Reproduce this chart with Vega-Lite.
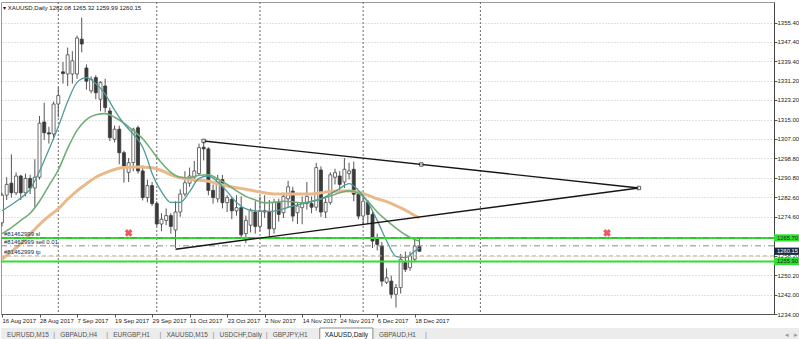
{
  "$schema": "https://vega.github.io/schema/vega-lite/v6.json",
  "background": "white",
  "padding": {"left": 0, "top": 1, "right": 0, "bottom": 0},
  "spacing": 3,
  "config": {"font": "Liberation Sans", "view": {"stroke": "#9a9a9a"}, "axis": {"labelOverlap": false, "labelSeparation": 0}, "scale": {"continuousPadding": 0}},
  "datasets": {
    "candles": [
      {"d":"2017-08-16","i":0,"o":1272,"h":1284.5,"l":1270.5,"c":1283.5},
      {"d":"2017-08-17","i":1,"o":1283.5,"h":1291,"l":1281.5,"c":1288},
      {"d":"2017-08-18","i":2,"o":1288.5,"h":1300.5,"l":1282.5,"c":1284.5},
      {"d":"2017-08-21","i":3,"o":1284.5,"h":1293,"l":1283.5,"c":1291.5},
      {"d":"2017-08-22","i":4,"o":1291.5,"h":1292,"l":1281.5,"c":1284.5},
      {"d":"2017-08-23","i":5,"o":1284.5,"h":1292.5,"l":1283,"c":1290.5},
      {"d":"2017-08-24","i":6,"o":1290.5,"h":1292,"l":1284,"c":1286.5},
      {"d":"2017-08-25","i":7,"o":1286.5,"h":1298.5,"l":1278,"c":1291},
      {"d":"2017-08-28","i":8,"o":1291,"h":1316.5,"l":1290,"c":1313.5},
      {"d":"2017-08-29","i":9,"o":1314,"h":1322,"l":1306.5,"c":1309.5},
      {"d":"2017-08-30","i":10,"o":1309.5,"h":1312,"l":1305,"c":1309},
      {"d":"2017-08-31","i":11,"o":1309,"h":1322.5,"l":1306.5,"c":1321.5},
      {"d":"2017-09-01","i":12,"o":1321.5,"h":1328.5,"l":1316,"c":1325},
      {"d":"2017-09-04","i":13,"o":1334.9,"h":1339,"l":1330,"c":1334.2},
      {"d":"2017-09-05","i":14,"o":1334,"h":1345,"l":1329,"c":1342},
      {"d":"2017-09-06","i":15,"o":1334,"h":1343.5,"l":1330,"c":1339.5},
      {"d":"2017-09-07","i":16,"o":1334,"h":1350,"l":1332,"c":1349},
      {"d":"2017-09-08","i":17,"o":1348.5,"h":1357.5,"l":1343,"c":1346.5},
      {"d":"2017-09-11","i":18,"o":1336.5,"h":1338,"l":1327.5,"c":1331},
      {"d":"2017-09-12","i":19,"o":1327,"h":1333,"l":1326,"c":1331.8},
      {"d":"2017-09-13","i":20,"o":1332.5,"h":1333.5,"l":1323.5,"c":1326.2},
      {"d":"2017-09-14","i":21,"o":1323.5,"h":1331,"l":1318.5,"c":1330.4},
      {"d":"2017-09-15","i":22,"o":1329,"h":1332,"l":1318,"c":1320},
      {"d":"2017-09-18","i":23,"o":1318.6,"h":1320,"l":1306,"c":1307.5},
      {"d":"2017-09-19","i":24,"o":1306.8,"h":1312.5,"l":1305.5,"c":1311},
      {"d":"2017-09-20","i":25,"o":1311,"h":1312.5,"l":1296.4,"c":1301.2},
      {"d":"2017-09-21","i":26,"o":1301.2,"h":1302,"l":1288.7,"c":1295},
      {"d":"2017-09-22","i":27,"o":1293,"h":1299,"l":1289,"c":1297},
      {"d":"2017-09-25","i":28,"o":1297.1,"h":1311.6,"l":1293.5,"c":1311},
      {"d":"2017-09-26","i":29,"o":1311.6,"h":1312.5,"l":1292.5,"c":1293.6},
      {"d":"2017-09-27","i":30,"o":1293.6,"h":1296,"l":1281.3,"c":1282.5},
      {"d":"2017-09-28","i":31,"o":1282.5,"h":1290,"l":1280.5,"c":1287.5},
      {"d":"2017-09-29","i":32,"o":1287.5,"h":1289,"l":1279,"c":1280},
      {"d":"2017-10-02","i":33,"o":1280,"h":1281,"l":1270.5,"c":1271.5},
      {"d":"2017-10-03","i":34,"o":1271.5,"h":1276,"l":1268.5,"c":1273.5},
      {"d":"2017-10-04","i":35,"o":1273,"h":1278,"l":1271,"c":1275},
      {"d":"2017-10-05","i":36,"o":1275,"h":1276,"l":1267.5,"c":1270.5},
      {"d":"2017-10-06","i":37,"o":1269,"h":1281,"l":1261.5,"c":1276.5},
      {"d":"2017-10-09","i":38,"o":1276.5,"h":1286,"l":1274.5,"c":1284},
      {"d":"2017-10-10","i":39,"o":1284,"h":1293.5,"l":1283,"c":1288.7},
      {"d":"2017-10-11","i":40,"o":1288.5,"h":1295,"l":1287,"c":1291.5},
      {"d":"2017-10-12","i":41,"o":1291,"h":1297.8,"l":1289,"c":1293.6},
      {"d":"2017-10-13","i":42,"o":1292.5,"h":1305,"l":1292,"c":1303.3},
      {"d":"2017-10-16","i":43,"o":1303.5,"h":1306.1,"l":1298,"c":1302.8},
      {"d":"2017-10-17","i":44,"o":1302.8,"h":1303.5,"l":1283.5,"c":1285.5},
      {"d":"2017-10-18","i":45,"o":1285.5,"h":1288,"l":1280,"c":1282.5},
      {"d":"2017-10-19","i":46,"o":1282,"h":1292,"l":1280.5,"c":1290},
      {"d":"2017-10-20","i":47,"o":1290,"h":1292,"l":1278,"c":1280.4},
      {"d":"2017-10-23","i":48,"o":1280.4,"h":1283.5,"l":1276.5,"c":1282.5},
      {"d":"2017-10-24","i":49,"o":1281.8,"h":1282.5,"l":1273.5,"c":1277},
      {"d":"2017-10-25","i":50,"o":1277,"h":1283.5,"l":1275,"c":1278.3},
      {"d":"2017-10-26","i":51,"o":1278.3,"h":1283,"l":1266,"c":1267},
      {"d":"2017-10-27","i":52,"o":1267.5,"h":1275,"l":1263.5,"c":1273},
      {"d":"2017-10-30","i":53,"o":1271,"h":1278,"l":1268,"c":1277},
      {"d":"2017-10-31","i":54,"o":1276.5,"h":1281,"l":1267.5,"c":1270.5},
      {"d":"2017-11-01","i":55,"o":1270.5,"h":1283,"l":1268.5,"c":1277},
      {"d":"2017-11-02","i":56,"o":1277,"h":1283.5,"l":1274,"c":1276.5},
      {"d":"2017-11-03","i":57,"o":1276.7,"h":1281.5,"l":1266.3,"c":1269.5},
      {"d":"2017-11-06","i":58,"o":1269.5,"h":1282,"l":1267.5,"c":1280.5},
      {"d":"2017-11-07","i":59,"o":1280.5,"h":1282,"l":1272.5,"c":1275.5},
      {"d":"2017-11-08","i":60,"o":1276.2,"h":1284.5,"l":1274,"c":1283},
      {"d":"2017-11-09","i":61,"o":1282,"h":1289.5,"l":1278.5,"c":1287},
      {"d":"2017-11-10","i":62,"o":1285.2,"h":1287,"l":1272.5,"c":1274.8},
      {"d":"2017-11-13","i":63,"o":1276.2,"h":1280.5,"l":1271.5,"c":1279},
      {"d":"2017-11-14","i":64,"o":1278.3,"h":1283,"l":1271.4,"c":1280.3},
      {"d":"2017-11-15","i":65,"o":1280,"h":1289,"l":1277.5,"c":1283},
      {"d":"2017-11-16","i":66,"o":1280,"h":1283,"l":1276,"c":1278.5},
      {"d":"2017-11-17","i":67,"o":1278.5,"h":1297,"l":1277,"c":1295},
      {"d":"2017-11-20","i":68,"o":1294,"h":1295.5,"l":1274.5,"c":1276.5},
      {"d":"2017-11-21","i":69,"o":1276.5,"h":1282.5,"l":1274,"c":1280.5},
      {"d":"2017-11-22","i":70,"o":1280.5,"h":1293,"l":1279.5,"c":1292},
      {"d":"2017-11-23","i":71,"o":1291,"h":1294.5,"l":1288,"c":1292.9},
      {"d":"2017-11-24","i":72,"o":1291.5,"h":1293.5,"l":1285.5,"c":1288},
      {"d":"2017-11-27","i":73,"o":1289,"h":1299,"l":1286.5,"c":1294.3},
      {"d":"2017-11-28","i":74,"o":1292.5,"h":1297,"l":1290,"c":1293.6},
      {"d":"2017-11-29","i":75,"o":1294.3,"h":1297.5,"l":1281,"c":1283.9},
      {"d":"2017-11-30","i":76,"o":1283.9,"h":1285.5,"l":1273.5,"c":1274.8},
      {"d":"2017-12-01","i":77,"o":1274.8,"h":1282.5,"l":1271,"c":1281},
      {"d":"2017-12-04","i":78,"o":1280.5,"h":1281.5,"l":1271.5,"c":1275.5},
      {"d":"2017-12-05","i":79,"o":1275.5,"h":1277,"l":1261.5,"c":1264.4},
      {"d":"2017-12-06","i":80,"o":1265.8,"h":1267.5,"l":1260.5,"c":1263},
      {"d":"2017-12-07","i":81,"o":1262.3,"h":1264,"l":1245.5,"c":1247.7},
      {"d":"2017-12-08","i":82,"o":1247.2,"h":1253,"l":1246.5,"c":1249.1},
      {"d":"2017-12-11","i":83,"o":1247.7,"h":1250,"l":1240.5,"c":1242.2},
      {"d":"2017-12-12","i":84,"o":1242.2,"h":1246.5,"l":1236.7,"c":1245},
      {"d":"2017-12-13","i":85,"o":1245,"h":1259,"l":1242.5,"c":1256.8},
      {"d":"2017-12-14","i":86,"o":1255.4,"h":1260,"l":1251.5,"c":1252.6},
      {"d":"2017-12-15","i":87,"o":1253.3,"h":1260,"l":1252,"c":1258.2},
      {"d":"2017-12-18","i":88,"o":1256.8,"h":1265.8,"l":1255.5,"c":1262.3},
      {"d":"2017-12-19","i":89,"o":1262.08,"h":1265.32,"l":1259.99,"c":1260.15}
    ],
    "ma": [
      {"ma":"teal","i":0,"p":1277},{"ma":"teal","i":2,"p":1279.5},{"ma":"teal","i":4,"p":1282.3},{"ma":"teal","i":6,"p":1286},{"ma":"teal","i":8,"p":1293.5},{"ma":"teal","i":10,"p":1302.5},{"ma":"teal","i":12,"p":1312},{"ma":"teal","i":14,"p":1322.5},{"ma":"teal","i":16,"p":1330.5},{"ma":"teal","i":18,"p":1332.5},{"ma":"teal","i":20,"p":1330},{"ma":"teal","i":22,"p":1325.5},{"ma":"teal","i":24,"p":1319},{"ma":"teal","i":26,"p":1313.2},{"ma":"teal","i":28,"p":1309},{"ma":"teal","i":30,"p":1303.5},{"ma":"teal","i":31,"p":1298.5},{"ma":"teal","i":32,"p":1292.5},{"ma":"teal","i":34,"p":1285},{"ma":"teal","i":36,"p":1280.5},{"ma":"teal","i":38,"p":1280.5},{"ma":"teal","i":40,"p":1285},{"ma":"teal","i":42,"p":1290.5},{"ma":"teal","i":44,"p":1291.5},{"ma":"teal","i":46,"p":1289},{"ma":"teal","i":48,"p":1285},{"ma":"teal","i":50,"p":1280.5},{"ma":"teal","i":52,"p":1277.8},{"ma":"teal","i":54,"p":1277},{"ma":"teal","i":56,"p":1276.8},{"ma":"teal","i":58,"p":1276.9},{"ma":"teal","i":60,"p":1277.8},{"ma":"teal","i":62,"p":1279},{"ma":"teal","i":64,"p":1279.9},{"ma":"teal","i":66,"p":1280.8},{"ma":"teal","i":68,"p":1281.9},{"ma":"teal","i":70,"p":1284},{"ma":"teal","i":72,"p":1286.3},{"ma":"teal","i":74,"p":1288.3},{"ma":"teal","i":76,"p":1285.5},{"ma":"teal","i":78,"p":1280.5},{"ma":"teal","i":80,"p":1273},{"ma":"teal","i":82,"p":1264.5},{"ma":"teal","i":84,"p":1258},{"ma":"teal","i":86,"p":1257.5},{"ma":"teal","i":88,"p":1260.2},{"ma":"teal","i":89,"p":1261.5},
      {"ma":"green","i":0,"p":1267.5},{"ma":"green","i":2,"p":1270},{"ma":"green","i":4,"p":1273},{"ma":"green","i":6,"p":1276},{"ma":"green","i":8,"p":1281},{"ma":"green","i":10,"p":1287.5},{"ma":"green","i":12,"p":1294},{"ma":"green","i":14,"p":1303},{"ma":"green","i":16,"p":1310.5},{"ma":"green","i":18,"p":1315},{"ma":"green","i":20,"p":1317},{"ma":"green","i":22,"p":1317.5},{"ma":"green","i":24,"p":1316},{"ma":"green","i":26,"p":1313.5},{"ma":"green","i":28,"p":1310.3},{"ma":"green","i":30,"p":1307},{"ma":"green","i":32,"p":1302},{"ma":"green","i":34,"p":1297},{"ma":"green","i":36,"p":1293},{"ma":"green","i":38,"p":1291},{"ma":"green","i":40,"p":1290.7},{"ma":"green","i":42,"p":1291.8},{"ma":"green","i":44,"p":1292},{"ma":"green","i":46,"p":1290.3},{"ma":"green","i":48,"p":1288},{"ma":"green","i":50,"p":1285.3},{"ma":"green","i":52,"p":1283},{"ma":"green","i":54,"p":1281.5},{"ma":"green","i":56,"p":1280.3},{"ma":"green","i":58,"p":1280.5},{"ma":"green","i":60,"p":1281},{"ma":"green","i":62,"p":1280.8},{"ma":"green","i":64,"p":1280.3},{"ma":"green","i":66,"p":1281},{"ma":"green","i":68,"p":1282},{"ma":"green","i":70,"p":1283.2},{"ma":"green","i":72,"p":1284.5},{"ma":"green","i":74,"p":1285.3},{"ma":"green","i":76,"p":1284.3},{"ma":"green","i":78,"p":1281},{"ma":"green","i":80,"p":1276.5},{"ma":"green","i":82,"p":1273},{"ma":"green","i":84,"p":1269.8},{"ma":"green","i":86,"p":1267},{"ma":"green","i":88,"p":1265},{"ma":"green","i":89,"p":1264.4},
      {"ma":"tan","i":0,"p":1256.8},{"ma":"tan","i":2,"p":1260},{"ma":"tan","i":4,"p":1263.2},{"ma":"tan","i":6,"p":1267.3},{"ma":"tan","i":8,"p":1271.3},{"ma":"tan","i":10,"p":1274.8},{"ma":"tan","i":12,"p":1277.8},{"ma":"tan","i":14,"p":1281.8},{"ma":"tan","i":16,"p":1285.3},{"ma":"tan","i":18,"p":1288.3},{"ma":"tan","i":20,"p":1291},{"ma":"tan","i":22,"p":1292.8},{"ma":"tan","i":24,"p":1294.2},{"ma":"tan","i":26,"p":1295},{"ma":"tan","i":28,"p":1295.3},{"ma":"tan","i":30,"p":1295.2},{"ma":"tan","i":32,"p":1294.9},{"ma":"tan","i":34,"p":1293.8},{"ma":"tan","i":36,"p":1292},{"ma":"tan","i":38,"p":1290.8},{"ma":"tan","i":40,"p":1290.1},{"ma":"tan","i":42,"p":1289.7},{"ma":"tan","i":44,"p":1289.3},{"ma":"tan","i":46,"p":1288.3},{"ma":"tan","i":48,"p":1287.3},{"ma":"tan","i":50,"p":1286.6},{"ma":"tan","i":52,"p":1286},{"ma":"tan","i":54,"p":1285.2},{"ma":"tan","i":56,"p":1284.5},{"ma":"tan","i":58,"p":1284},{"ma":"tan","i":60,"p":1284},{"ma":"tan","i":62,"p":1284},{"ma":"tan","i":64,"p":1284},{"ma":"tan","i":66,"p":1284},{"ma":"tan","i":68,"p":1284.5},{"ma":"tan","i":70,"p":1285},{"ma":"tan","i":72,"p":1285.3},{"ma":"tan","i":74,"p":1285.2},{"ma":"tan","i":76,"p":1284.8},{"ma":"tan","i":78,"p":1283.5},{"ma":"tan","i":80,"p":1282},{"ma":"tan","i":82,"p":1280.8},{"ma":"tan","i":84,"p":1279.2},{"ma":"tan","i":86,"p":1277.3},{"ma":"tan","i":88,"p":1275},{"ma":"tan","i":89,"p":1274}
    ],
    "seps": [{"d":"2017-09-01","i":12},{"d":"2017-10-02","i":33},{"d":"2017-11-01","i":55},{"d":"2017-12-01","i":77},{"d":"2018-01-02","i":102}],
    "hlines": [{"name":"upper","p":1265.7,"box":"1265.70"},{"name":"lower","p":1255.9,"box":"1255.90"}],
    "orders": [{"kind":"sl","p":1265.7,"label":"#81462999 sl"},{"kind":"sell","p":1262.4,"label":"#81462999 sell 0.01"},{"kind":"tp","p":1258.2,"label":"#81462999 tp"}],
    "bid": [{"p":1260.15,"box":"1260.15"}],
    "trend": [{"line":"upper","i":43,"p":1306.1},{"line":"upper","i":135.8,"p":1286.5},{"line":"lower","i":37,"p":1261},{"line":"lower","i":135.8,"p":1286.5}],
    "anchors": [{"i":43,"p":1306.1},{"i":89.4,"p":1296.3},{"i":135.8,"p":1286.5}],
    "crosses": [{"i":27,"p":1267.8},{"i":129,"p":1267.8}],
    "tabs": [
      {"tab":"EURUSD,M15","active":false},{"tab":"GBPAUD,H4","active":false},{"tab":"EURGBP,H1","active":false},{"tab":"XAUUSD,M15","active":false},
      {"tab":"USDCHF,Daily","active":false},{"tab":"GBPJPY,H1","active":false},{"tab":"XAUUSD,Daily","active":true},{"tab":"GBPAUD,H1","active":false}
    ],
    "arrows": [{"a":"◂"},{"a":"▸"}]
  },
  "vconcat": [
    {
      "width": 773,
      "height": 312,
      "title": {"text": "▾ XAUUSD,Daily  1262.08 1265.32 1259.99 1260.15", "anchor": "start", "frame": "group", "offset": -9, "fontSize": 6, "fontWeight": "normal", "color": "#111111", "dx": 2, "font": "Liberation Sans"},
      "layer": [
        {
          "data": {"name": "seps"},
          "mark": {"type": "rule", "strokeDash": [2, 2], "color": "#6a6a6a", "strokeWidth": 1, "clip": true},
          "encoding": {"x": {"field": "i", "type": "quantitative", "title": null, "scale": {"domain": [-0.2132, 164.6], "nice": false, "zero": false, "padding": 0}}}
        },
        {
          "data": {"name": "candles"},
          "mark": {"type": "rule", "color": "#555555", "strokeWidth": 1, "clip": true},
          "encoding": {
            "x": {"field": "i", "type": "quantitative", "title": null, "scale": {"domain": [-0.2132, 164.6], "nice": false, "zero": false, "padding": 0},
                  "axis": {"values": [0,8,16,24,32,40,48,56,64,72,80,88], "tickCount": 40, "labelExpr": "['16 Aug 2017','28 Aug 2017','7 Sep 2017','19 Sep 2017','29 Sep 2017','11 Oct 2017','23 Oct 2017','2 Nov 2017','14 Nov 2017','24 Nov 2017','6 Dec 2017','18 Dec 2017'][round(datum.value/8)]", "title": null, "grid": false, "tickSize": 3, "tickColor": "#555555", "domainColor": "#555555", "labelFontSize": 6, "labelColor": "#222222", "labelAlign": "left", "labelPadding": 0, "labelFlush": false, "labelOverlap": false, "labelBound": false}},
            "y": {"field": "l", "type": "quantitative", "title": null, "scale": {"domain": [1234, 1364], "nice": false, "zero": false, "padding": 0},
                  "axis": {"orient": "right", "values": [1234,1242,1250.2,1258.2,1274.6,1282.6,1290.8,1298.8,1307,1315,1323.2,1331.2,1339.4,1347.4,1355.4], "tickCount": 40, "format": ".2f", "title": null, "grid": true, "gridDash": [1, 2], "gridColor": "#c4c4c4", "tickSize": 3, "tickColor": "#555555", "domainColor": "#444444", "labelFontSize": 6, "labelColor": "#222222", "labelPadding": 0, "labelOverlap": false, "labelSeparation": 0, "labelFlush": false, "labelBound": false}},
            "y2": {"field": "h"}
          }
        },
        {
          "data": {"name": "candles"},
          "transform": [{"filter": "datum.c >= datum.o"}],
          "mark": {"type": "bar", "size": 3, "fill": "#ffffff", "stroke": "#4a4a4a", "strokeWidth": 0.8, "clip": true},
          "encoding": {
            "x": {"field": "i", "type": "quantitative", "title": null},
            "y": {"field": "o", "type": "quantitative", "title": null},
            "y2": {"field": "c"}
          }
        },
        {
          "data": {"name": "candles"},
          "transform": [{"filter": "datum.c < datum.o"}],
          "mark": {"type": "bar", "size": 3, "fill": "#3a3a3a", "stroke": "#3a3a3a", "strokeWidth": 0.8, "clip": true},
          "encoding": {
            "x": {"field": "i", "type": "quantitative", "title": null},
            "y": {"field": "o", "type": "quantitative", "title": null},
            "y2": {"field": "c"}
          }
        },
        {
          "data": {"name": "ma"},
          "transform": [{"filter": "datum.ma == 'tan'"}],
          "mark": {"type": "line", "color": "#eab98a", "strokeWidth": 3, "interpolate": "monotone", "clip": true},
          "encoding": {"x": {"field": "i", "type": "quantitative", "title": null}, "y": {"field": "p", "type": "quantitative", "title": null}}
        },
        {
          "data": {"name": "ma"},
          "transform": [{"filter": "datum.ma == 'green'"}],
          "mark": {"type": "line", "color": "#72ad78", "strokeWidth": 1.6, "interpolate": "monotone", "clip": true},
          "encoding": {"x": {"field": "i", "type": "quantitative", "title": null}, "y": {"field": "p", "type": "quantitative", "title": null}}
        },
        {
          "data": {"name": "ma"},
          "transform": [{"filter": "datum.ma == 'teal'"}],
          "mark": {"type": "line", "color": "#4f9b98", "strokeWidth": 1.3, "interpolate": "monotone", "clip": true},
          "encoding": {"x": {"field": "i", "type": "quantitative", "title": null}, "y": {"field": "p", "type": "quantitative", "title": null}}
        },
        {
          "data": {"name": "hlines"},
          "mark": {"type": "rule", "color": "#2fe02f", "strokeWidth": 2, "clip": true},
          "encoding": {"y": {"field": "p", "type": "quantitative", "title": null}}
        },
        {
          "data": {"name": "orders"},
          "transform": [{"filter": "datum.kind == 'sl'"}],
          "mark": {"type": "rule", "color": "#3f9f3f", "strokeWidth": 1, "strokeDash": [6, 3, 1, 3], "clip": true},
          "encoding": {"y": {"field": "p", "type": "quantitative", "title": null}}
        },
        {
          "data": {"name": "orders"},
          "transform": [{"filter": "datum.kind == 'sell'"}],
          "mark": {"type": "rule", "color": "#8a8a8a", "strokeWidth": 1, "strokeDash": [6, 3, 1, 3], "clip": true},
          "encoding": {"y": {"field": "p", "type": "quantitative", "title": null}}
        },
        {
          "data": {"name": "orders"},
          "transform": [{"filter": "datum.kind == 'tp'"}],
          "mark": {"type": "rule", "color": "#dba277", "strokeWidth": 1, "strokeDash": [4, 3], "clip": true},
          "encoding": {"y": {"field": "p", "type": "quantitative", "title": null}}
        },
        {
          "data": {"name": "trend"},
          "mark": {"type": "line", "color": "#151515", "strokeWidth": 1.4, "clip": true},
          "encoding": {"x": {"field": "i", "type": "quantitative", "title": null}, "y": {"field": "p", "type": "quantitative", "title": null}, "detail": {"field": "line"}}
        },
        {
          "data": {"name": "anchors"},
          "mark": {"type": "point", "shape": "square", "size": 12, "filled": true, "fill": "#ffffff", "stroke": "#151515", "strokeWidth": 1, "clip": true},
          "encoding": {"x": {"field": "i", "type": "quantitative", "title": null}, "y": {"field": "p", "type": "quantitative", "title": null}}
        },
        {
          "data": {"name": "crosses"},
          "mark": {"type": "point", "shape": "cross", "angle": 45, "size": 60, "filled": true, "color": "#e3141c", "strokeWidth": 0, "clip": true},
          "encoding": {"x": {"field": "i", "type": "quantitative", "title": null}, "y": {"field": "p", "type": "quantitative", "title": null}}
        },
        {
          "data": {"name": "orders"},
          "mark": {"type": "text", "align": "left", "baseline": "bottom", "fontSize": 6, "color": "#1a2a3a", "dx": 2, "dy": -1, "clip": true},
          "encoding": {"x": {"datum": 0}, "y": {"field": "p", "type": "quantitative", "title": null}, "text": {"field": "label"}}
        },
        {
          "data": {"name": "hlines"},
          "mark": {"type": "point", "shape": "M-1,-0.28H1V0.28H-1Z", "size": 676, "filled": true, "color": "#2fe02f", "opacity": 1, "clip": false, "xOffset": 13},
          "encoding": {"x": {"datum": 164.6}, "y": {"field": "p", "type": "quantitative", "title": null}}
        },
        {
          "data": {"name": "bid"},
          "mark": {"type": "point", "shape": "M-1,-0.28H1V0.28H-1Z", "size": 676, "filled": true, "color": "#1c2b3d", "opacity": 1, "clip": false, "xOffset": 13},
          "encoding": {"x": {"datum": 164.6}, "y": {"field": "p", "type": "quantitative", "title": null}}
        },
        {
          "data": {"name": "hlines"},
          "mark": {"type": "text", "align": "left", "baseline": "middle", "fontSize": 5.8, "color": "#1a1a1a", "dx": 3, "clip": false},
          "encoding": {"x": {"datum": 164.6}, "y": {"field": "p", "type": "quantitative", "title": null}, "text": {"field": "box"}}
        },
        {
          "data": {"name": "bid"},
          "mark": {"type": "text", "align": "left", "baseline": "middle", "fontSize": 5.8, "color": "#ffffff", "dx": 3, "clip": false},
          "encoding": {"x": {"datum": 164.6}, "y": {"field": "p", "type": "quantitative", "title": null}, "text": {"field": "box"}}
        }
      ]
    },
    {
      "width": 799,
      "height": 13,
      "view": {"fill": "#ececec", "stroke": null},
      "resolve": {"scale": {"x": "independent"}},
      "layer": [
        {
          "data": {"name": "tabs"},
          "layer": [
            {
              "transform": [{"filter": "datum.active"}],
              "mark": {"type": "bar", "fill": "#ffffff", "stroke": "#8a8a8a", "strokeWidth": 1},
              "encoding": {"x": {"field": "tab", "type": "nominal", "axis": null, "sort": null, "scale": {"domain": ["EURUSD,M15","GBPAUD,H4","EURGBP,H1","XAUUSD,M15","USDCHF,Daily","GBPJPY,H1","XAUUSD,Daily","GBPAUD,H1"], "range": [0, 425], "paddingInner": 0, "paddingOuter": 0}}}
            },
            {
              "transform": [{"filter": "!datum.active"}],
              "mark": {"type": "text", "fontSize": 6.5, "color": "#555555", "baseline": "middle", "align": "left", "dx": 6},
              "encoding": {"x": {"field": "tab", "type": "nominal", "bandPosition": 0, "axis": null, "sort": null}, "text": {"field": "tab"}}
            },
            {
              "transform": [{"filter": "datum.active"}],
              "mark": {"type": "text", "fontSize": 6.5, "color": "#111111", "baseline": "middle", "align": "left", "dx": 5},
              "encoding": {"x": {"field": "tab", "type": "nominal", "bandPosition": 0, "axis": null, "sort": null}, "text": {"field": "tab"}}
            },
            {
              "transform": [{"filter": "!datum.active && datum.tab != 'GBPJPY,H1'"}],
              "mark": {"type": "text", "fontSize": 7, "color": "#8a8a8a", "baseline": "middle", "text": "|"},
              "encoding": {"x": {"field": "tab", "type": "nominal", "bandPosition": 1, "axis": null, "sort": null}}
            }
          ]
        },
        {
          "data": {"name": "arrows"},
          "mark": {"type": "text", "fontSize": 7, "color": "#9a9a9a", "baseline": "middle"},
          "encoding": {
            "x": {"field": "a", "type": "nominal", "axis": null, "sort": null, "scale": {"domain": ["◂", "▸"], "range": [781, 799], "paddingInner": 0, "paddingOuter": 0}},
            "text": {"field": "a"}
          }
        }
      ]
    }
  ]
}
